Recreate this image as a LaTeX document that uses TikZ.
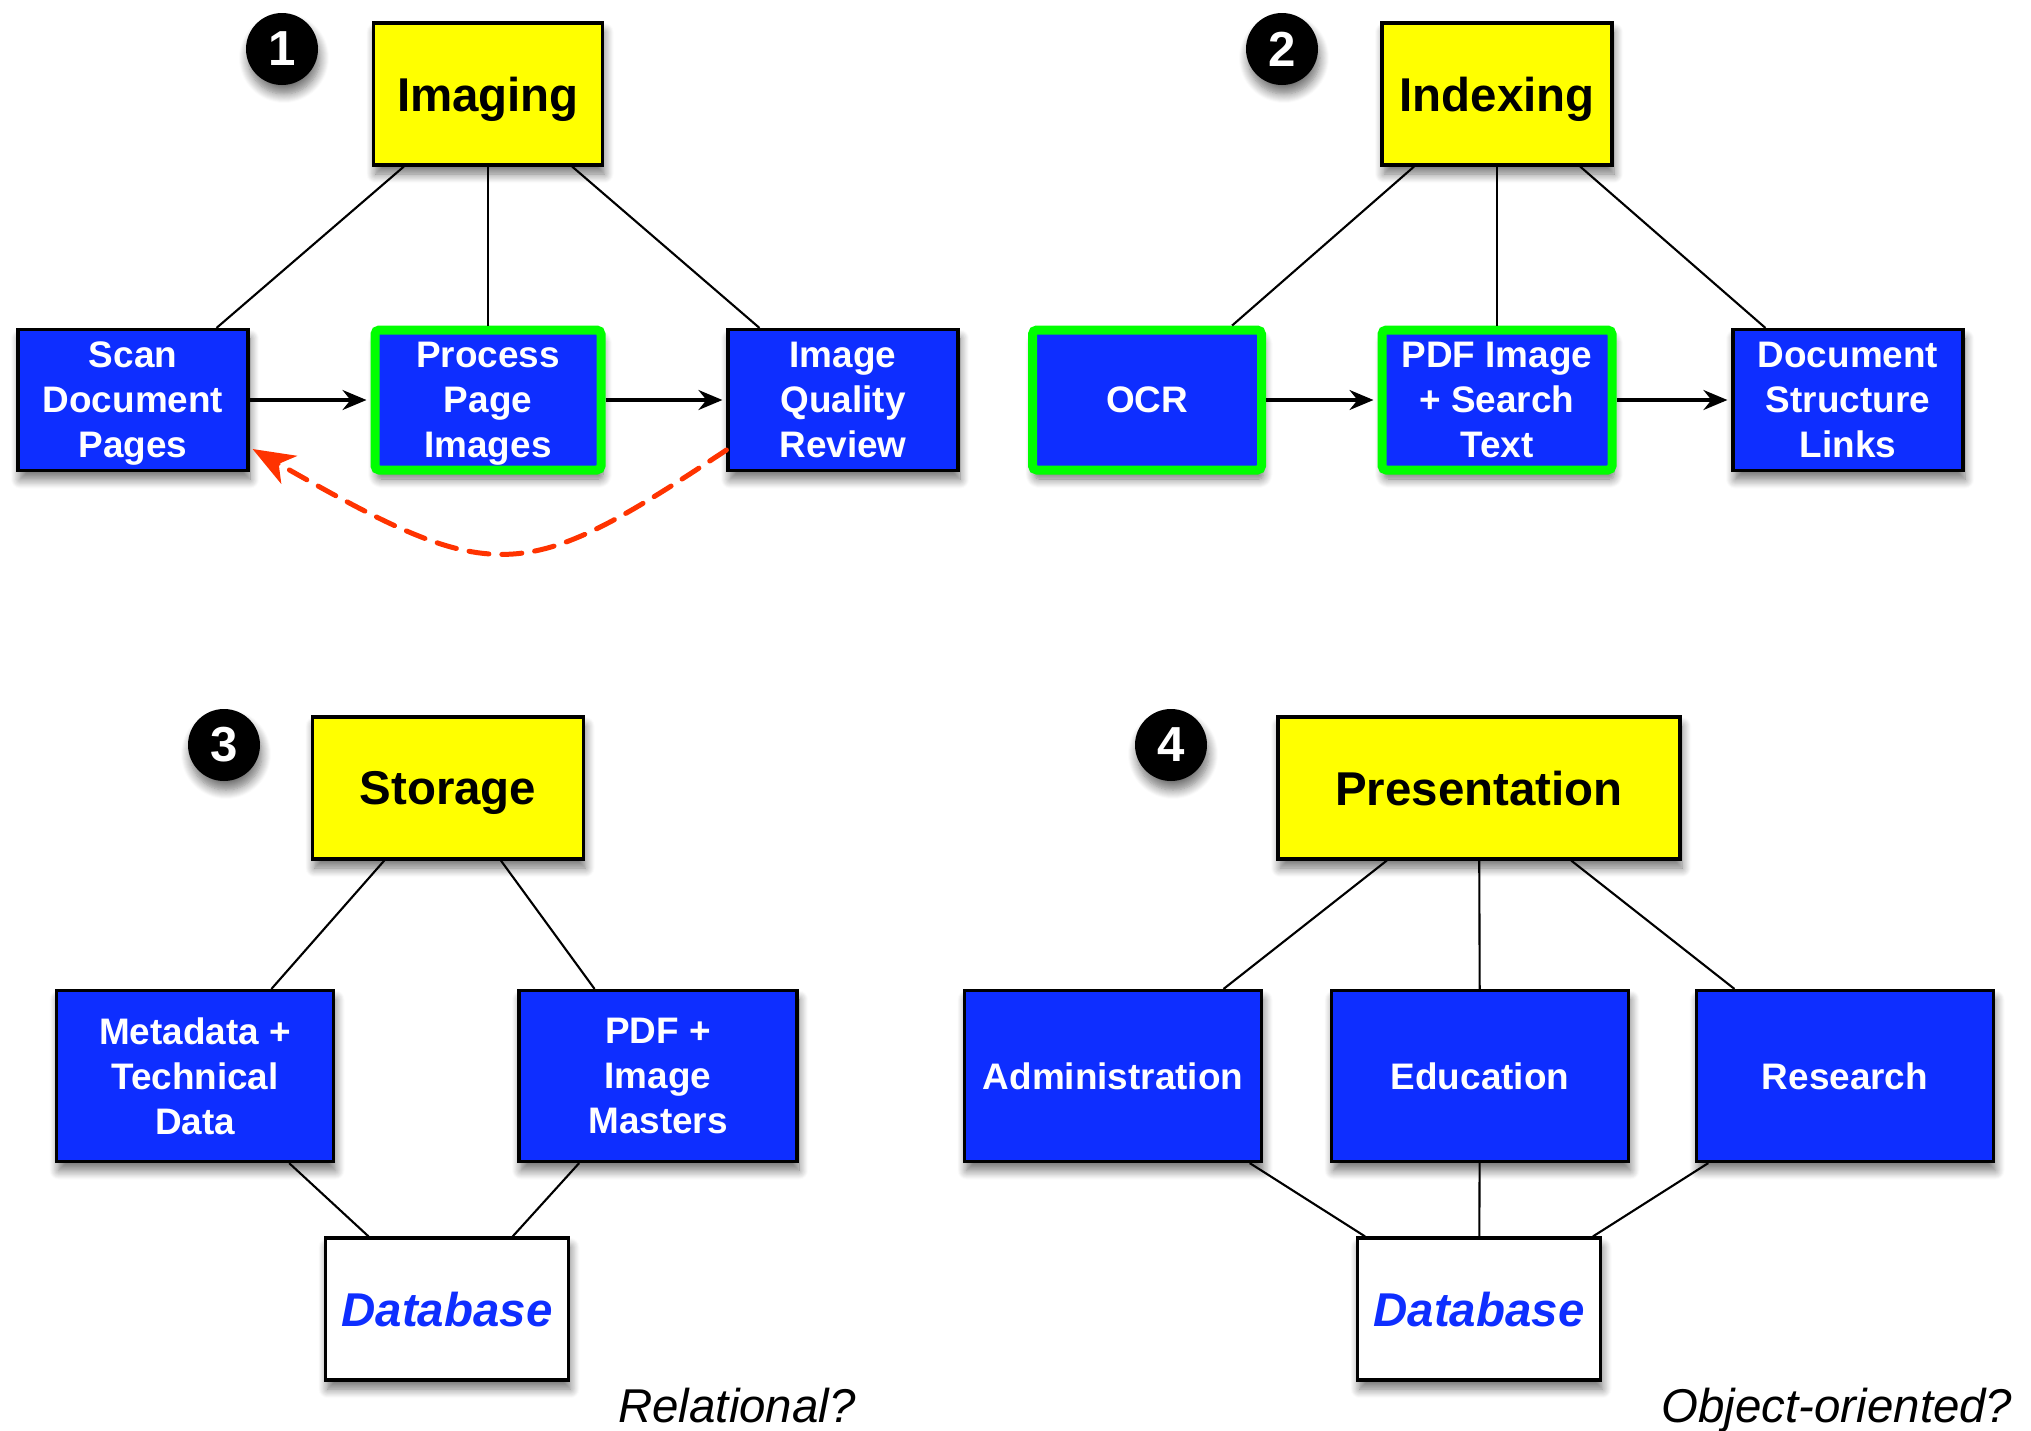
\documentclass[tikz,border=0pt]{standalone}
\usepackage{fontspec}
\setmainfont{Liberation Sans}
\usetikzlibrary{arrows.meta,shadows.blur}

\definecolor{boxblue}{RGB}{14,46,255}
\definecolor{hiyellow}{RGB}{255,255,0}
\definecolor{higreen}{RGB}{0,255,0}
\definecolor{loopred}{RGB}{255,51,0}

\tikzset{
  sh/.style={blur shadow={shadow xshift=0.02cm, shadow yshift=-0.09cm, shadow blur steps=10, shadow opacity=55, shadow blur radius=0.09cm}},
  topbox/.style={draw=black, line width=0.9pt, fill=hiyellow, font=\fontsize{13.5}{16}\selectfont\bfseries, minimum height=1.42cm, inner sep=0pt, text depth=0pt, sh},
  taskbox/.style={draw=black, line width=0.9pt, fill=boxblue, text=white, font=\fontsize{10.5}{12.8}\selectfont\bfseries, align=center, minimum width=2.3cm, minimum height=1.41cm, inner sep=0pt, text depth=0pt, sh},
  keybox/.style={taskbox, draw=higreen, line width=0.09cm, rounded corners=1.2pt, minimum width=2.27cm, minimum height=1.40cm},
  dbbox/.style={draw=black, line width=0.9pt, fill=white, text=boxblue, font=\fontsize{13.5}{16}\selectfont\bfseries\itshape, minimum width=2.43cm, minimum height=1.42cm, inner sep=0pt, text depth=-0.03cm, sh},
  numdot/.style={circle, fill=black, text=white, font=\fontsize{14}{16}\selectfont\bfseries, minimum size=0.72cm, inner sep=0pt, sh},
  link/.style={line width=0.6pt},
  flow/.style={line width=0.9pt, shorten >=0.04cm, -{Stealth[length=0.24cm,width=0.2cm,inset=0.08cm]}},
  loopback/.style={loopred, line width=0.05cm, dash pattern=on 0.2cm off 0.13cm, line cap=round, -{Stealth[length=0.42cm,width=0.32cm,inset=0.12cm]}},
  note/.style={font=\fontsize{13.5}{16}\selectfont\itshape, anchor=base, inner sep=0pt}
}

\begin{document}
\begin{tikzpicture}
\useasboundingbox (0,0) rectangle (20.31,-14.31);

% ---------- Panel 1 ----------
\node[numdot] (n1) at (2.82,-0.49) {1};
\node[topbox, minimum width=2.29cm] (imaging) at (4.88,-0.94) {Imaging};
\node[taskbox] (scan) at (1.33,-4.00) {Scan\\Document\\Pages};
\node[keybox, minimum width=2.26cm] (process) at (4.88,-4.00) {Process\\Page\\Images};
\node[taskbox] (review) at (8.43,-4.00) {Image\\Quality\\Review};

\draw[link] (imaging) -- (scan);
\draw[link] (imaging) -- (process);
\draw[link] (imaging) -- (review);
\draw[flow] (scan) -- (process);
\draw[flow] (process) -- (review);
\draw[loopback] ([yshift=-0.5cm]review.west) .. controls (5.2,-5.87) and (4.95,-5.87) .. ([yshift=-0.49cm,xshift=0.03cm]scan.east);

% ---------- Panel 2 ----------
\node[numdot] (n2) at (12.82,-0.49) {2};
\node[topbox, minimum width=2.30cm] (indexing) at (14.97,-0.94) {Indexing};
\node[keybox, minimum width=2.29cm] (ocr) at (11.47,-4.00) {OCR};
\node[keybox, minimum width=2.30cm] (pdftext) at (14.97,-4.00) {PDF Image\\+ Search\\Text};
\node[taskbox] (links) at (18.48,-4.00) {Document\\Structure\\Links};

\draw[link] (indexing) -- (ocr);
\draw[link] (indexing) -- (pdftext);
\draw[link] (indexing) -- (links);
\draw[flow] (ocr) -- (pdftext);
\draw[flow] (pdftext) -- (links);

% ---------- Panel 3 ----------
\node[numdot] (n3) at (2.24,-7.45) {3};
\node[topbox, minimum width=2.71cm] (storage) at (4.48,-7.88) {Storage};
\node[taskbox, minimum width=2.77cm, minimum height=1.71cm] (meta) at (1.95,-10.76) {Metadata +\\Technical\\Data};
\node[taskbox, minimum width=2.78cm, minimum height=1.71cm] (masters) at (6.58,-10.76) {PDF +\\Image\\Masters};
\node[dbbox] (db3) at (4.47,-13.09) {Database};
\node[note] (rel) at (7.37,-14.22) {Relational?};

\draw[link] (storage) -- (meta);
\draw[link] (storage) -- (masters);
\draw[link] (meta) -- (db3);
\draw[link] (masters) -- (db3);

% ---------- Panel 4 ----------
\node[numdot] (n4) at (11.71,-7.45) {4};
\node[topbox, minimum width=4.02cm] (pres) at (14.79,-7.88) {Presentation};
\node[taskbox, minimum width=2.97cm, minimum height=1.71cm] (admin) at (11.13,-10.76) {Administration};
\node[taskbox, minimum width=2.97cm, minimum height=1.71cm] (edu) at (14.80,-10.76) {Education};
\node[taskbox, minimum width=2.97cm, minimum height=1.71cm] (res) at (18.45,-10.76) {Research};
\node[dbbox] (db4) at (14.79,-13.09) {Database};
\node[note] (oo) at (18.37,-14.22) {Object-oriented?};

\draw[link] (pres) -- (admin);
\draw[link] (pres) -- (edu);
\draw[link] (pres) -- (res);
\draw[link] (admin) -- (db4);
\draw[link] (edu) -- (db4);
\draw[link] (res) -- (db4);
\end{tikzpicture}
\end{document}
